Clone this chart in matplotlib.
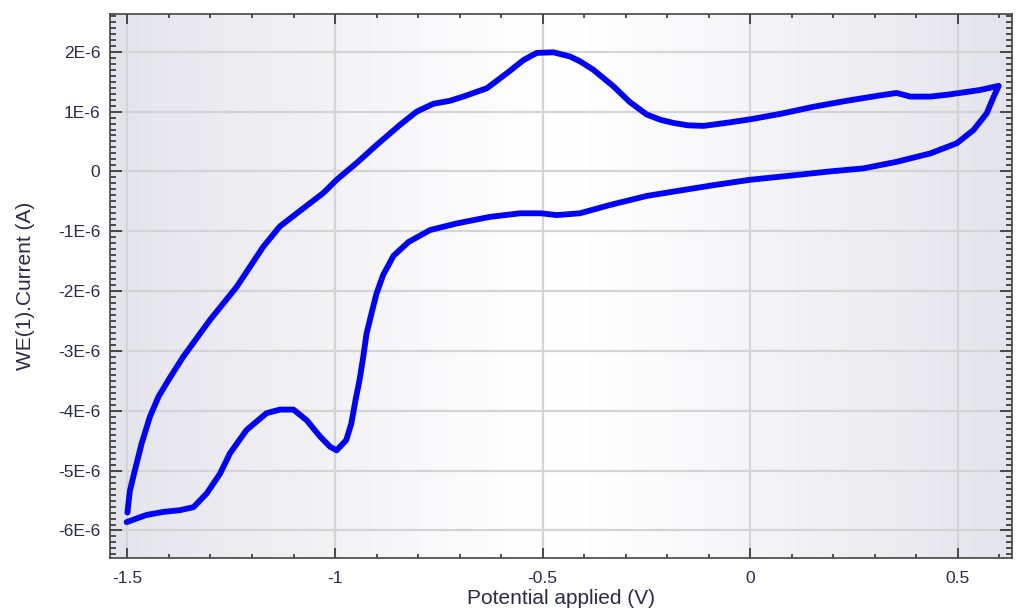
import matplotlib
matplotlib.use("Agg")
import matplotlib.pyplot as plt
from matplotlib.ticker import MultipleLocator, FuncFormatter
import numpy as np

# forward sweep, -1.5 V -> 0.6 V (current in uA)
fwd_E = [-1.500, -1.497, -1.494, -1.482, -1.466, -1.446, -1.425, -1.398, -1.366,
         -1.301, -1.237, -1.173, -1.133, -1.092, -1.028, -0.996, -0.948, -0.900,
         -0.843, -0.803, -0.763, -0.723, -0.691, -0.634, -0.586, -0.546, -0.514,
         -0.474, -0.434, -0.410, -0.378, -0.329, -0.290, -0.249, -0.215, -0.185,
         -0.150, -0.112, -0.048, 0.000, 0.072, 0.153, 0.233, 0.313, 0.353, 0.386,
         0.434, 0.474, 0.514, 0.554, 0.599]
fwd_I = [-5.70, -5.50, -5.33, -4.99, -4.55, -4.10, -3.76, -3.45, -3.10,
         -2.48, -1.93, -1.26, -0.92, -0.70, -0.36, -0.14, 0.14, 0.44,
         0.78, 1.00, 1.13, 1.18, 1.25, 1.39, 1.64, 1.86, 1.98,
         1.99, 1.92, 1.84, 1.70, 1.42, 1.16, 0.95, 0.86, 0.81,
         0.77, 0.76, 0.82, 0.87, 0.96, 1.08, 1.18, 1.27, 1.31, 1.25,
         1.25, 1.28, 1.32, 1.36, 1.43]

# reverse sweep, 0.6 V -> -1.5 V
rev_E = [0.587, 0.570, 0.538, 0.498, 0.434, 0.353, 0.273, 0.193, 0.112, 0.000,
         -0.088, -0.169, -0.249, -0.337, -0.410, -0.466, -0.504, -0.554, -0.627,
         -0.707, -0.771, -0.823, -0.859, -0.884, -0.900, -0.912, -0.924, -0.932,
         -0.941, -0.950, -0.961, -0.973, -0.996, -1.012, -1.036, -1.068, -1.100,
         -1.133, -1.165, -1.213, -1.253, -1.277, -1.309, -1.341, -1.373, -1.414,
         -1.454, -1.502]
rev_I = [1.25, 0.97, 0.69, 0.47, 0.30, 0.16, 0.05, 0.00, -0.06, -0.14,
         -0.23, -0.32, -0.41, -0.56, -0.70, -0.73, -0.70, -0.70, -0.76,
         -0.87, -0.98, -1.18, -1.41, -1.73, -2.04, -2.37, -2.71, -3.10,
         -3.49, -3.80, -4.22, -4.49, -4.66, -4.60, -4.43, -4.16, -3.98,
         -3.98, -4.04, -4.32, -4.71, -5.05, -5.38, -5.61, -5.66, -5.69,
         -5.74, -5.86]

x_ticks = [-1.5, -1.0, -0.5, 0.0, 0.5]
y_ticks = [-6, -5, -4, -3, -2, -1, 0, 1, 2]

txt = "#2a2a4a"
plt.rcParams["font.family"] = ["Liberation Sans", "DejaVu Sans"]

fig = plt.figure(figsize=(10.17, 6.11), dpi=100)
ax = fig.add_axes([0.1082, 0.0867, 0.8869, 0.8904])

# grey-white-grey horizontal shading of the plot area
t = np.linspace(0, 1, 400)
d = np.abs(t - 0.5) / 0.5
shade = np.stack([1 - 0.11 * d**1.2, 1 - 0.11 * d**1.2, 1 - 0.08 * d**1.2], axis=-1)
ax.imshow(shade[None, :, :], extent=[0, 1, 0, 1], transform=ax.transAxes,
          aspect="auto", zorder=0)

E = np.array(fwd_E + rev_E)
I = np.array(fwd_I + rev_I) * 1e-6
ax.plot(E, I, color="#0000ff", lw=4.2, solid_joinstyle="round",
        solid_capstyle="round", zorder=3)

ax.set_xlim(-1.542, 0.631)
ax.set_ylim(-6.46e-6, 2.63e-6)

ax.set_xticks(x_ticks)
ax.set_yticks([v * 1e-6 for v in y_ticks])
ax.xaxis.set_minor_locator(MultipleLocator(0.1))
ax.yaxis.set_minor_locator(MultipleLocator(1e-7))
ax.xaxis.set_major_formatter(FuncFormatter(lambda v, p: "%g" % round(v, 2)))
ax.yaxis.set_major_formatter(FuncFormatter(
    lambda v, p: "0" if abs(v) < 1e-12 else "%dE-6" % round(v * 1e6)))

ax.grid(True, which="major", color="#d4d4d4", lw=1.6)
ax.set_axisbelow(True)

ax.tick_params(which="both", direction="in", top=True, right=True,
               colors="#222222", labelcolor=txt, labelsize=12.5, width=1.1)
ax.tick_params(axis="x", which="major", length=7, pad=9)
ax.tick_params(axis="x", which="minor", length=3)
ax.tick_params(axis="y", which="major", length=8.5, pad=7)
ax.tick_params(axis="y", which="minor", length=4.5)

for s in ax.spines.values():
    s.set_color("#444444")
    s.set_linewidth(1.2)
    s.set_zorder(4)

ax.set_xlabel("Potential applied (V)", fontsize=15, color=txt)
ax.set_ylabel("WE(1).Current (A)", fontsize=15, color=txt)
ax.xaxis.set_label_coords(0.5, -0.057)
ax.yaxis.set_label_coords(-0.083, 0.5)

fig.savefig("out.png", dpi=100)
